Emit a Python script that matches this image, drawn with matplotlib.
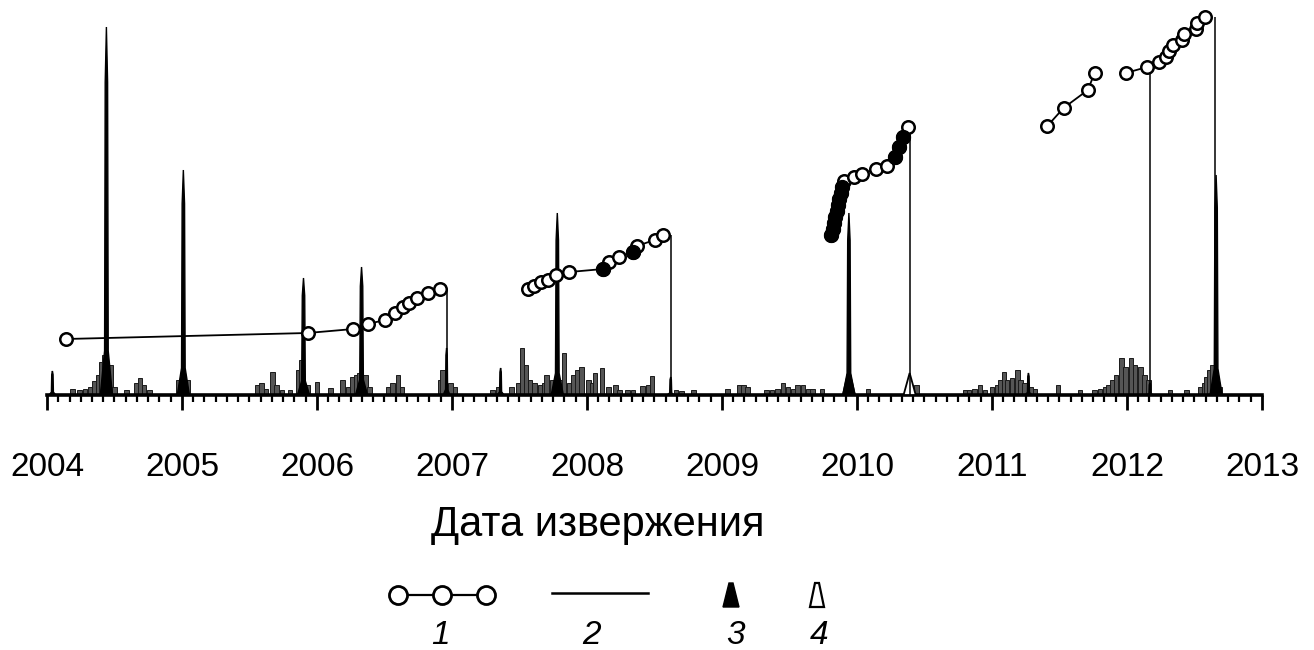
import matplotlib.pyplot as plt
import numpy as np

plt.rcParams['font.family'] = ['Liberation Sans', 'DejaVu Sans']

# grey histogram of activity (year, relative height)
hist_years = [2004.19, 2004.24, 2004.28, 2004.32, 2004.35, 2004.38, 2004.40, 2004.42, 2004.47, 2004.50,
              2004.59, 2004.66, 2004.69, 2004.72, 2004.76, 2004.97, 2005.04,
              2005.56, 2005.59, 2005.62, 2005.67, 2005.70, 2005.74, 2005.80, 2005.86, 2005.88, 2005.93,
              2006.00, 2006.10, 2006.19, 2006.23, 2006.26, 2006.29, 2006.31, 2006.36, 2006.39,
              2006.53, 2006.56, 2006.60, 2006.63, 2006.91, 2006.93, 2006.99, 2007.02,
              2007.30, 2007.34, 2007.44, 2007.49, 2007.52, 2007.55, 2007.58, 2007.61, 2007.65, 2007.68,
              2007.70, 2007.74, 2007.80, 2007.83, 2007.87, 2007.90, 2007.93, 2007.96, 2008.01, 2008.04,
              2008.06, 2008.11, 2008.16, 2008.21, 2008.24, 2008.30, 2008.34, 2008.41, 2008.45, 2008.48,
              2008.66, 2008.70, 2008.79, 2009.04, 2009.13, 2009.16, 2009.19,
              2009.33, 2009.37, 2009.41, 2009.45, 2009.49, 2009.53, 2009.56, 2009.60, 2009.64, 2009.67,
              2009.74, 2010.08, 2010.44, 2010.80, 2010.83, 2010.87, 2010.91, 2010.95,
              2011.00, 2011.04, 2011.06, 2011.09, 2011.11, 2011.15, 2011.19, 2011.21, 2011.24, 2011.29,
              2011.32, 2011.49, 2011.65, 2011.76, 2011.80, 2011.84, 2011.86, 2011.89, 2011.92, 2011.96,
              2011.99, 2012.03, 2012.06, 2012.10, 2012.13, 2012.16, 2012.32, 2012.44,
              2012.54, 2012.57, 2012.59, 2012.61, 2012.63, 2012.69]
hist_vals = [6, 5, 6, 8, 14, 20, 33, 40, 30, 8,
             5, 12, 17, 10, 5, 15, 15,
             10, 12, 6, 23, 10, 5, 5, 25, 35, 10,
             13, 7, 15, 8, 18, 20, 22, 20, 8,
             8, 12, 20, 8, 15, 25, 12, 8,
             5, 8, 8, 12, 47, 30, 15, 12, 10, 12,
             20, 15, 15, 42, 12, 20, 25, 28, 15, 12,
             22, 27, 8, 10, 5, 5, 5, 9, 10, 19,
             5, 4, 5, 6, 10, 10, 8,
             5, 5, 6, 12, 8, 6, 10, 10, 6, 6,
             6, 6, 10, 5, 5, 6, 10, 5,
             8, 10, 15, 23, 15, 17, 25, 15, 12, 8,
             6, 10, 5, 5, 6, 8, 10, 15, 20, 37,
             28, 37, 30, 28, 20, 15, 5, 5,
             8, 12, 18, 25, 30, 8]

# eruptions (3 - black triangles)
erupt_years = [2004.04, 2004.44, 2005.01, 2005.90, 2006.33, 2006.96, 2007.36, 2007.78,
               2008.62, 2009.94, 2011.27, 2012.17, 2012.66]
erupt_heights = [24, 368, 225, 117, 128, 47, 27, 182, 18, 182, 22, 12, 220]
# (4 - open triangles)
weak_years = [2009.94, 2010.39]
weak_heights = [26, 22]

# series 1 (open circles), by segments
seg_years = [
    [2004.14, 2005.93, 2006.27, 2006.38, 2006.50, 2006.58, 2006.64, 2006.68, 2006.74, 2006.82, 2006.91],
    [2007.56, 2007.61, 2007.66, 2007.71, 2007.77, 2007.87, 2008.12, 2008.16, 2008.24, 2008.34,
     2008.37, 2008.50, 2008.56],
    [2009.81, 2009.82, 2009.83, 2009.84, 2009.85, 2009.86, 2009.87, 2009.88, 2009.89, 2009.90,
     2009.98, 2010.04, 2010.14, 2010.22, 2010.28, 2010.31, 2010.34, 2010.38],
    [2011.41, 2011.53, 2011.71, 2011.76],
    [2011.99, 2012.15, 2012.24, 2012.29, 2012.31, 2012.34, 2012.41, 2012.42, 2012.51, 2012.52, 2012.58],
]
seg_heights = [
    [56, 62, 66, 71, 75, 82, 88, 92, 97, 102, 106],
    [106, 109, 113, 115, 120, 123, 126, 133, 138, 143, 149, 155, 160],
    [160, 166, 172, 178, 184, 190, 196, 202, 208, 214, 218, 221, 226, 229, 238, 248, 258, 268],
    [269, 287, 305, 322],
    [322, 328, 333, 338, 344, 350, 355, 361, 366, 372, 378],
]
# points drawn black (dense/filled)
filled_years = [2008.12, 2008.34, 2009.81, 2009.82, 2009.83, 2009.84, 2009.85, 2009.86, 2009.87,
                2009.88, 2009.89, 2010.28, 2010.31, 2010.34]
filled_heights = [126, 143, 160, 166, 172, 178, 184, 190, 196, 202, 208, 238, 248, 258]

# 2 - thin lines down to the axis
drop_years = [2006.96, 2008.62, 2010.39, 2012.17, 2012.65]
drop_tops = [106, 160, 268, 328, 378]

years = list(range(2004, 2014))

fig = plt.figure(figsize=(13.14, 6.5), dpi=100)
ax = fig.add_axes([47 / 1314, 255 / 650, 1215 / 1314, 395 / 650])
ax.set_xlim(2004, 2013)
ax.set_ylim(0, 395)

ax.bar(hist_years, hist_vals, width=0.032, color='#555555', edgecolor='#1a1a1a', linewidth=0.7, zorder=2)

for x, h in zip(weak_years, weak_heights):
    w = 0.045
    ax.fill([x - w, x, x + w], [0, h, 0], facecolor='white', edgecolor='black', linewidth=1.3, zorder=3)
for x, h in zip(erupt_years, erupt_heights):
    w = 0.045 if h > 100 else 0.025
    ax.fill([x - w, x - w * 0.3, x - w * 0.2, x, x + w * 0.2, x + w * 0.3, x + w],
            [0, h * 0.12, h * 0.85, h, h * 0.85, h * 0.12, 0],
            facecolor='black', edgecolor='black', linewidth=1.0, zorder=4, clip_on=False)

ax.vlines(drop_years, 0, drop_tops, color='black', linewidth=1.1, zorder=3)

for xs, hs in zip(seg_years, seg_heights):
    ax.plot(xs, hs, '-', color='black', linewidth=1.3, zorder=5, clip_on=False)
    ax.plot(xs, hs, 'o', markerfacecolor='white', markeredgecolor='black', markersize=9,
            markeredgewidth=1.8, zorder=6, clip_on=False)
ax.plot(filled_years, filled_heights, 'o', color='black', markersize=10, zorder=7, clip_on=False)

for s in ['left', 'right', 'top']:
    ax.spines[s].set_visible(False)
ax.spines['bottom'].set_linewidth(2.6)
ax.set_yticks([])
ax.set_xticks(years)
ax.set_xticklabels([str(y) for y in years], fontsize=24)
ax.set_xticks(np.arange(2004, 2013.01, 1 / 12), minor=True)
ax.tick_params(axis='x', which='major', direction='out', length=11, width=2, pad=30)
ax.tick_params(axis='x', which='minor', direction='out', length=5, width=1.6)

fig.text(598 / 1314, 1 - 525 / 650, 'Дата извержения', fontsize=30, ha='center', va='center')

# legend drawn in pixel coordinates
lg = fig.add_axes([0, 0, 1, 1])
lg.set_xlim(0, 1314)
lg.set_ylim(650, 0)
lg.axis('off')
lg.plot([398, 442, 486], [595, 595, 595], '-o', color='black', markerfacecolor='white',
        markersize=13, markeredgewidth=2, linewidth=1.6)
lg.plot([552, 648], [593, 593], color='black', linewidth=1.8)
lg.fill([723, 729, 733, 739], [607, 583, 583, 607], facecolor='black', edgecolor='black')
lg.fill([810, 815, 819, 824], [607, 583, 583, 607], facecolor='white', edgecolor='black', linewidth=1.6)
for lx, lab in zip([440, 592, 736, 819], ['1', '2', '3', '4']):
    lg.text(lx, 636, lab, fontsize=24, style='italic', ha='center', va='center')

fig.savefig('out.png', dpi=100)
